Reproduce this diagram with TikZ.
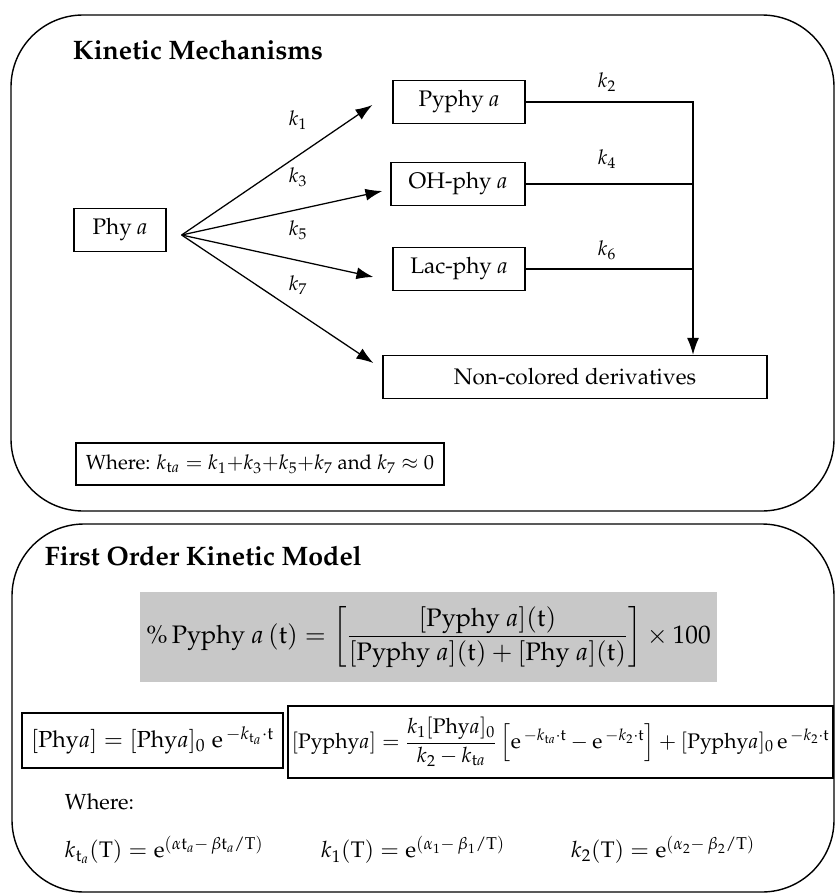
\documentclass[tikz,border=0pt]{standalone}
\usepackage[T1]{fontenc}
\usepackage{mathpazo}
\usepackage{amsmath}
\usetikzlibrary{arrows.meta,calc}
\definecolor{eqgray}{RGB}{200,200,200}
\tikzset{
	panel/.style={draw, line width=1pt, rounded corners=1.8cm},
	species/.style={draw, line width=0.9pt, minimum height=1.08cm, inner sep=2pt,
			font=\fontsize{16}{19}\selectfont},
	eqbox/.style={draw, line width=0.9pt, inner sep=1pt, font=\fontsize{15}{18}\selectfont},
	rate/.style={font=\fontsize{14.5}{17}\selectfont},
	flow/.style={line width=0.9pt, -{Latex[length=12pt,width=8.5pt]}},
	title/.style={anchor=west, font=\fontsize{19}{23}\selectfont\bfseries}
}

\begin{document}
\begin{tikzpicture}[x=0.025cm,y=-0.025cm]
		\useasboundingbox (0,0) rectangle (836,894);
		
		% kinetic mechanisms
		\draw[panel] (11,15) rectangle (834,511);
		\node[title] (mechtitle) at (68,50) {Kinetic Mechanisms};
		
		\node[species, minimum width=2.3cm] (phy) at (120,230) {Phy \textit{a}};
		\node[species, minimum width=3.3cm] (pyphy) at (459,102) {Pyphy \textit{a}};
		\node[species, minimum width=3.35cm] (ohphy) at (458,184) {OH-phy \textit{a}};
		\node[species, minimum width=3.3cm] (lacphy) at (459,269) {Lac-phy \textit{a}};
		\node[species, minimum width=9.6cm] (noncol) at (575,377) {Non-colored derivatives};
		
		\coordinate (fan) at ($(phy.east)+(15,5)$);
		\coordinate (drop) at (693,104);
		\draw[flow] (fan) -- ([shift={(-20,3)}]pyphy.west);
		\draw[flow] (fan) -- ([shift={(-8,7)}]ohphy.west);
		\draw[flow] (fan) -- ([shift={(-19,8)}]lacphy.west);
		\draw[flow] (fan) -- ([shift={(-9,-14)}]noncol.west);
		\node[rate] (k1) at (298,120) {$k_1$};
		\node[rate] (k3) at (298,177) {$k_3$};
		\node[rate] (k5) at (298,230) {$k_5$};
		\node[rate] (k7) at (298,285) {$k_7$};
		
		\draw[flow] (pyphy.east) -- (pyphy.east -| drop) -- (drop |- noncol.north);
		\draw[line width=0.9pt] (ohphy.east) -- (ohphy.east -| drop);
		\draw[line width=0.9pt] (lacphy.east) -- (lacphy.east -| drop);
		\node[rate] (k2) at (607,82) {$k_2$};
		\node[rate] (k4) at (607,159) {$k_4$};
		\node[rate] (k6) at (607,250) {$k_6$};
		
		\node[species, minimum width=9.2cm, minimum height=1.05cm, font=\fontsize{14.5}{17}\selectfont]
		(sumbox) at (260,464)
		{Where: $k_{\mathrm{t}a}=k_1{+}k_3{+}k_5{+}k_7$ and $k_7\approx 0$};
		
		% first order model
		\draw[panel] (12,524) rectangle (834,892);
		\node[title] (modeltitle) at (40,556) {First Order Kinetic Model};
		
		\node[fill=eqgray, minimum width=14.425cm, minimum height=2.25cm,
			font=\fontsize{18}{22}\selectfont] (pct) at (428.5,637)
		{$\%\,\mathrm{Pyphy}\ a\,(\mathrm{t})=\left[\dfrac{[\mathrm{Pyphy}\ a](\mathrm{t})}{[\mathrm{Pyphy}\ a](\mathrm{t})+[\mathrm{Phy}\ a](\mathrm{t})}\right]\times 100$};
		
		\node[eqbox, minimum width=6.525cm, minimum height=1.375cm, font=\fontsize{16.5}{19}\selectfont]
		(phyeq) at (152.5,740.5)
		{$[\mathrm{Phy}a]=[\mathrm{Phy}a]_0\;\mathrm{e}^{\,-k_{\mathrm{t}_a}\cdot\mathrm{t}}$};
		\node[eqbox, minimum width=13.625cm, minimum height=1.8cm] (pyphyeq) at (560.5,742)
		{$[\mathrm{Pyphy}a]=\dfrac{k_1[\mathrm{Phy}a]_0}{k_2-k_{\mathrm{t}a}}\left[\mathrm{e}^{\,-k_{\mathrm{t}a}\cdot\mathrm{t}}-\mathrm{e}^{\,-k_2\cdot\mathrm{t}}\right]+[\mathrm{Pyphy}a]_0\,\mathrm{e}^{\,-k_2\cdot\mathrm{t}}$};
		
		\node[rate, anchor=west, font=\fontsize{15.5}{18}\selectfont] (where) at (60,802) {Where:};
		\node[rate, anchor=west, font=\fontsize{16}{20}\selectfont] (ktaT) at (60,850)
		{$k_{\mathrm{t}_a}(\mathrm{T})=\mathrm{e}^{(\alpha\mathrm{t}_a-\,\beta\mathrm{t}_a/\mathrm{T})}$};
		\node[rate, anchor=west, font=\fontsize{16}{20}\selectfont] (k1T) at (316,850)
		{$k_1(\mathrm{T})=\mathrm{e}^{(\alpha_1-\,\beta_1/\mathrm{T})}$};
		\node[rate, anchor=west, font=\fontsize{16}{20}\selectfont] (k2T) at (566,850)
		{$k_2(\mathrm{T})=\mathrm{e}^{(\alpha_2-\,\beta_2/\mathrm{T})}$};
	\end{tikzpicture}
\end{document}
